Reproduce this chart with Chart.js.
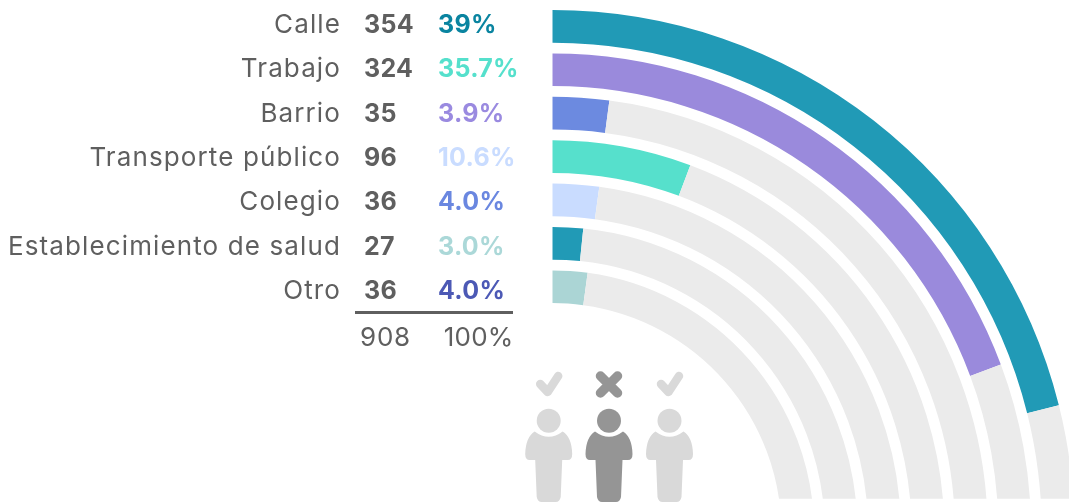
<!DOCTYPE html>
<html>
<head>
<meta charset="utf-8">
<title>Lugares</title>
<script src="https://cdn.jsdelivr.net/npm/chart.js@4"></script>
<style>
  html, body { margin: 0; padding: 0; width: 1069px; height: 502px; overflow: hidden; background: #fff; }
  #radialChart { display: block; position: absolute; left: 0; top: 0; }
</style>
</head>
<body>
<canvas id="radialChart" width="1075" height="532"></canvas>
<script>
const categories = ['Calle', 'Trabajo', 'Barrio', 'Transporte público', 'Colegio', 'Establecimiento de salud', 'Otro'];
const counts = [354, 324, 35, 96, 36, 27, 36];
const percentLabels = ['39%', '35.7%', '3.9%', '10.6%', '4.0%', '3.0%', '4.0%'];
const totalCount = '908';
const totalPercent = '100%';
const trackMax = 419.5; // value that fills the quarter circle

const barColors = ['#219ab6', '#9a8adc', '#6c8ae0', '#56e0cc', '#c9dcff', '#219ab6', '#abd5d5'];
const percentColors = ['#0a84a0', '#55e0cc', '#9a8ae0', '#c9dcff', '#6a87e0', '#abd8d8', '#4c59b5'];
const trackColor = '#ebebeb';
const textColor = '#5f5f5f';
const fontName = 'Inter, sans-serif';

// first dataset is the outer ring
const datasets = [];
categories.forEach((name, i) => {
  datasets.push({
    label: name,
    data: [counts[i], trackMax - counts[i]],
    backgroundColor: [barColors[i], trackColor],
    borderWidth: 0,
    weight: 32.7,
  });
  if (i < categories.length - 1) {
    datasets.push({
      label: 'gap',
      data: [trackMax],
      backgroundColor: ['rgba(0,0,0,0)'],
      borderWidth: 0,
      weight: 10.7,
    });
  }
});

function drawPerson(ctx, cx, color, mark) {
  ctx.fillStyle = color;
  ctx.strokeStyle = color;
  ctx.beginPath();
  ctx.arc(cx, 420.7, 12, 0, Math.PI * 2);
  ctx.fill();

  ctx.beginPath();
  ctx.moveTo(cx - 14, 431.5);
  ctx.quadraticCurveTo(cx, 442, cx + 14, 431.5);
  ctx.quadraticCurveTo(cx + 23, 437, cx + 23.5, 454);
  ctx.quadraticCurveTo(cx + 23.5, 460, cx + 19, 460);
  ctx.lineTo(cx + 13.5, 460);
  ctx.lineTo(cx + 12, 497);
  ctx.quadraticCurveTo(cx + 11, 502, cx + 7, 502);
  ctx.lineTo(cx - 7, 502);
  ctx.quadraticCurveTo(cx - 11, 502, cx - 12, 497);
  ctx.lineTo(cx - 13.5, 460);
  ctx.lineTo(cx - 19, 460);
  ctx.quadraticCurveTo(cx - 23.5, 460, cx - 23.5, 454);
  ctx.quadraticCurveTo(cx - 23, 437, cx - 14, 431.5);
  ctx.closePath();
  ctx.fill();

  ctx.lineCap = 'round';
  ctx.lineJoin = 'round';
  ctx.beginPath();
  if (mark === 'check') {
    ctx.lineWidth = 8.5;
    ctx.moveTo(cx - 8.5, 384);
    ctx.lineTo(cx - 1, 392);
    ctx.lineTo(cx + 9.5, 376);
  } else {
    ctx.lineWidth = 9.5;
    ctx.moveTo(cx - 8.5, 376);
    ctx.lineTo(cx + 8.5, 393);
    ctx.moveTo(cx + 8.5, 376);
    ctx.lineTo(cx - 8.5, 393);
  }
  ctx.stroke();
}

const tablePlugin = {
  id: 'tablePlugin',
  beforeDatasetsDraw(chart) {
    // tracks are cut flat at the bottom
    const ctx = chart.ctx;
    ctx.save();
    ctx.beginPath();
    ctx.rect(0, 0, chart.width, 498.7);
    ctx.clip();
  },
  afterDatasetsDraw(chart) {
    chart.ctx.restore();
  },
  afterDraw(chart) {
    const ctx = chart.ctx;
    ctx.save();
    ctx.textBaseline = 'alphabetic';
    categories.forEach((name, i) => {
      const y = 33 + i * 44.33;
      ctx.font = '400 26px ' + fontName;
      ctx.letterSpacing = '1.12px';
      ctx.fillStyle = textColor;
      ctx.textAlign = 'right';
      ctx.fillText(name, 341, y);
      ctx.font = '700 25px ' + fontName;
      ctx.letterSpacing = '0.3px';
      ctx.textAlign = 'left';
      ctx.fillText(String(counts[i]), 364, y);
      ctx.fillStyle = percentColors[i];
      ctx.fillText(percentLabels[i], 438, y);
    });
    ctx.fillStyle = textColor;
    ctx.fillRect(355, 311, 158, 3);
    ctx.font = '400 26px ' + fontName;
    ctx.letterSpacing = '0.8px';
    ctx.textAlign = 'center';
    ctx.fillText(totalCount, 385.5, 346);
    ctx.letterSpacing = '0.2px';
    ctx.textAlign = 'right';
    ctx.fillText(totalPercent, 513.5, 346);

    drawPerson(ctx, 548.7, '#d9d9d9', 'check');
    drawPerson(ctx, 609, '#959595', 'cross');
    drawPerson(ctx, 669.5, '#d9d9d9', 'check');
    ctx.restore();
  },
};

new Chart(document.getElementById('radialChart').getContext('2d'), {
  type: 'doughnut',
  data: {
    labels: ['valor', 'resto'],
    datasets: datasets,
  },
  options: {
    responsive: false,
    animation: false,
    events: [],
    rotation: 0,
    circumference: 90,
    cutout: '43.85%',
    layout: { padding: { left: 552.5, top: 10, right: 0.5, bottom: 0 } },
    plugins: {
      legend: { display: false },
      tooltip: { enabled: false },
    },
  },
  plugins: [tablePlugin],
});
</script>
</body>
</html>
